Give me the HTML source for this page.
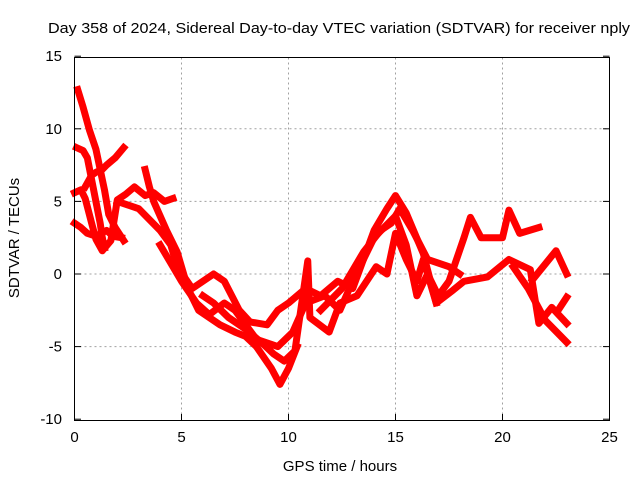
<!DOCTYPE html>
<html><head><meta charset="utf-8"><style>
body{margin:0;background:#fff;}
svg{display:block;font-family:"Liberation Sans",sans-serif;}
</style></head><body>
<svg id="chart" width="640" height="480">
<text x="339" y="33" font-size="15" text-anchor="middle" textLength="582" lengthAdjust="spacingAndGlyphs">Day 358 of 2024, Sidereal Day-to-day VTEC variation (SDTVAR) for receiver nply</text>
<text x="340" y="471" font-size="15" text-anchor="middle">GPS time / hours</text>
<text transform="translate(19,238) rotate(-90)" font-size="15" text-anchor="middle">SDTVAR / TECUs</text>
<g id="grid"></g><g id="ticks"></g><g id="marks"></g>
<rect x="74.5" y="57.5" width="535" height="363" fill="none" stroke="#000"/>
</svg>
<script>
const xTicks=[0,5,10,15,20,25];
const yTicks=[-10,-5,0,5,10,15];
const track1=[[0.15,12.7],[0.4,11.5],[0.7,9.9],[1.0,8.6],[1.2,7.2],[1.4,5.8],[1.6,4.1],[1.9,3.2],[2.3,2.3]];
const track2=[[0.1,8.7],[0.4,8.5],[0.6,8],[0.8,6.5],[1.0,5],[1.2,3.5],[1.3,2.5],[1.4,1.8]];
const track3=[[0.5,6],[0.8,6.8],[1,7],[1.3,7.2],[1.5,7.5],[1.9,8],[2.3,8.7]];
const track4=[[0,5.6],[0.3,5.8],[0.5,5.2],[0.8,3.5],[1.0,2.4],[1.3,1.6],[1.7,2.3],[2.0,5.1],[2.4,5.5],[2.8,6],[3.3,5.4],[3.7,5.6],[4.2,5.0],[4.6,5.2]];
const track5=[[0,3.5],[0.3,3.2],[0.6,2.8],[1.0,2.6],[1.5,3],[1.8,2.6],[2.2,2.5]];
const track6=[[3.3,7.2],[3.5,6],[3.7,5],[4.3,3],[4.8,1.5],[5.3,-1],[5.8,-2.5],[6.3,-3],[6.8,-3.5],[7.5,-4],[8.0,-4.3],[8.5,-5],[9.2,-6.5],[9.6,-7.6],[10,-6.5],[10.4,-5]];
const track7=[[2,5],[3,4.5],[4,3],[4.5,2],[4.8,0.5],[5.5,-1],[6.5,0],[7,-0.5],[7.7,-2.5],[8.2,-3.3],[9,-3.5],[9.5,-2.5],[10,-2],[10.8,-1],[11.5,-1.5],[12.3,-0.5],[13,-1],[13.5,1],[14,3],[14.6,4.5],[15,5.4],[15.5,4.2],[16.3,1.4],[16.9,-2]];
const track8=[[4,2],[5,-0.5],[5.7,-2],[6.3,-2.8],[7,-2],[7.5,-2.5],[8.5,-4.5],[9.5,-5],[10.2,-4],[10.8,-2],[11.7,-1.5],[12.4,-2.5],[13,-0.5],[14,2.5],[15,4],[15.5,2],[16,-1.5],[16.5,0],[17,-1.5],[17.5,-0.5],[18.2,2.5],[18.5,3.9],[19,2.5],[20,2.5],[20.3,4.4],[20.8,2.8],[21.7,3.2]];
const track9=[[6,-1.5],[6.5,-2],[7.2,-3],[8,-3.8],[8.8,-4.8],[9.3,-5.5],[9.8,-6],[10.3,-5.3],[10.9,0.9],[11,-3],[11.9,-4],[12.4,-2],[13.2,-1.5],[14.1,0.5],[14.6,0],[15,2.8],[15.5,1],[16,-0.5],[16.3,1],[16.9,-2],[17.7,-1.1],[18.2,-0.5],[19.3,-0.2],[20.3,1],[21.3,0.3],[21.7,-3.4],[22.3,-2.3],[23,-3.4]];
const track10=[[21.4,-0.4],[22.5,1.6],[23,0]];
const track11=[[20.5,0.5],[21.2,-1],[22,-3.2],[23,-4.7]];
const track12=[[22.6,-2.5],[23,-1.6]];
const track13=[[11.5,-2.5],[12.5,-1],[13.5,1.5],[14.3,3],[14.8,3.5],[15.2,4.5],[15.8,3],[16.5,1],[17.5,0.5],[18,0]];
const tracks=[track1,track2,track3,track4,track5,track6,track7,track8,track9,track10,track11,track12,track13];
const X=t=>74.5+t*21.4, Y=v=>274-v*14.52;
const NS="http://www.w3.org/2000/svg";
const g=document.getElementById('grid'), tk=document.getElementById('ticks'), mk=document.getElementById('marks');
function mkEl(tag,attrs,parent){const e=document.createElementNS(NS,tag);for(const k in attrs)e.setAttribute(k,attrs[k]);parent.appendChild(e);return e;}
xTicks.forEach(t=>{
  const x=X(t);
  if(t>0&&t<25){const l=mkEl('line',{x1:x,x2:x,y1:57.5,y2:420.5,stroke:'#a0a0a0','stroke-dasharray':'2,3'},g);
  
  }
  mkEl('line',{x1:x,x2:x,y1:420.5,y2:414,stroke:'#000'},tk);
  const tx=mkEl('text',{x:x,y:442,'font-size':15,'text-anchor':'middle'},tk);tx.textContent=t;
  
  
});
yTicks.forEach(v=>{
  const y=Y(v);
  if(v>-10&&v<15){const l=mkEl('line',{x1:74.5,x2:609.5,y1:y,y2:y,stroke:'#a0a0a0','stroke-dasharray':'2,3'},g);
  
  }
  mkEl('line',{x1:74.5,x2:81,y1:y,y2:y,stroke:'#000'},tk);
  mkEl('line',{x1:609.5,x2:603,y1:y,y2:y,stroke:'#000'},tk);
  const tx=mkEl('text',{x:62,y:y+5,'font-size':15,'text-anchor':'end'},tk);tx.textContent=v;
  
  
});
tracks.forEach((tr,i)=>{
  const p=mkEl('polyline',{points:tr.map(d=>X(d[0])+','+Y(d[1])).join(' '),fill:'none',stroke:'#ff0000','stroke-width':7,'stroke-linejoin':'round','stroke-linecap':'square'},mk);
  
  
});
</script>
</body></html>
